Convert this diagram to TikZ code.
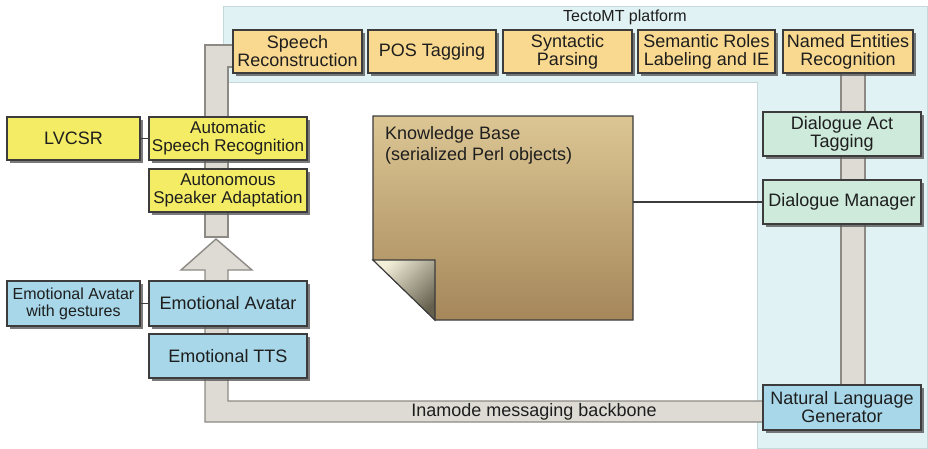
\documentclass[tikz,border=0pt]{standalone}
\usepackage{fontspec}
\setmainfont{Liberation Sans}
\usetikzlibrary{shadows}
\definecolor{tectoY}{HTML}{F9D98F}
\definecolor{asrY}{HTML}{F3EC64}
\definecolor{blueB}{HTML}{A7D7E8}
\definecolor{greenB}{HTML}{CDEADB}
\definecolor{lightbg}{HTML}{E0F2F3}
\definecolor{lightbgline}{HTML}{C3D9DB}
\definecolor{pipefill}{HTML}{DEDBD5}
\definecolor{pipeline}{HTML}{8D8A85}
\definecolor{boxline}{HTML}{3C3C3C}
\definecolor{txt}{HTML}{1E1E1E}
\definecolor{kbtop}{HTML}{DCC694}
\definecolor{kbbot}{HTML}{A5875A}
\definecolor{foldlight}{HTML}{F2EED8}
\definecolor{folddark}{HTML}{66614F}
\begin{document}
\begin{tikzpicture}[x=1pt,y=-1pt,
  box/.style={draw=boxline, line width=1.1pt, inner sep=0pt, align=center, text=txt,
    font=\fontsize{18}{18}\selectfont,
    drop shadow={shadow xshift=2.5pt, shadow yshift=-2.5pt, fill=black!65, opacity=0.8}},
  tbox/.style={box, fill=tectoY},
  ybox/.style={box, fill=asrY},
  bbox/.style={box, fill=blueB},
  gbox/.style={box, fill=greenB},
  pipe/.style={fill=pipefill, draw=pipeline, line width=1.4pt, line join=miter},
  conn/.style={draw=boxline, line width=1.1pt}
]
\useasboundingbox (0,0) rectangle (928,448);

% TectoMT platform background
\path[fill=lightbg, draw=lightbgline, line width=0.8pt]
  (223,6) -- (927,6) -- (927,448) -- (757,448) -- (757,82) -- (223,82) -- cycle;
\node[text=txt, font=\fontsize{16}{16}\selectfont] (title) at (625,17) {TectoMT platform};

% pipes
\path[pipe] (205,237) -- (205,45) -- (236,45) -- (236,67) -- (228,67) -- (228,237) -- cycle;
\path[pipe] (228,401) -- (228,270) -- (252,270) -- (216,239) -- (181,270) -- (205,270)
  -- (205,422) -- (765,422) -- (765,401) -- cycle;
\path[pipe] (841,70) rectangle (865,388);
\node[text=txt, font=\fontsize{18}{18}\selectfont] (backbone) at (534,412) {Inamode messaging backbone};

% TectoMT boxes
\node[tbox, minimum width=129pt, minimum height=43pt] (sr) at (297.5,51.5) {Speech\\Reconstruction};
\node[tbox, minimum width=128pt, minimum height=43pt] (pos) at (432,51.5) {POS Tagging};
\node[tbox, minimum width=129pt, minimum height=43pt] (syn) at (567.5,51.5) {Syntactic\\Parsing};
\node[tbox, minimum width=137pt, minimum height=43pt] (sem) at (706.5,51.5) {Semantic Roles\\Labeling and IE};
\node[tbox, minimum width=130pt, minimum height=43pt] (ner) at (848,51.5) {Named Entities\\Recognition};

% left column
\node[ybox, minimum width=133pt, minimum height=43pt] (lvcsr) at (73.5,138.5) {LVCSR};
\node[ybox, minimum width=158pt, minimum height=43pt, font=\fontsize{17}{18}\selectfont] (asr) at (228,138.5) {Automatic\\Speech Recognition};
\node[ybox, minimum width=158pt, minimum height=43pt, font=\fontsize{17}{18}\selectfont] (asa) at (228,190.5) {Autonomous\\Speaker Adaptation};
\draw[conn] (lvcsr.east) -- (asr.west);

\node[bbox, minimum width=133pt, minimum height=45pt, font=\fontsize{16}{17}\selectfont] (eag) at (73.5,303.5) {Emotional Avatar\\with gestures};
\node[bbox, minimum width=158pt, minimum height=45pt] (ea) at (228,303.5) {Emotional Avatar};
\node[bbox, minimum width=158pt, minimum height=44pt] (tts) at (228,356) {Emotional TTS};
\draw[conn] (eag.east) -- (ea.west);

% right column
\node[gbox, minimum width=158pt, minimum height=44pt] (da) at (842,134) {Dialogue Act\\Tagging};
\node[gbox, minimum width=158pt, minimum height=44pt] (dm) at (842,202) {Dialogue Manager};
\node[bbox, minimum width=158pt, minimum height=45pt] (nlg) at (842,407.5) {Natural Language\\Generator};

% Knowledge base note
\path[top color=kbtop, bottom color=kbbot, draw=boxline, line width=1.1pt]
  (373,116) -- (633,116) -- (633,320) -- (435,320) -- (373,260) -- cycle;
\path[top color=foldlight, bottom color=folddark, shading angle=45, draw=boxline, line width=1.1pt, line join=miter]
  (373,260) -- (435,260) -- (435,320) -- cycle;
\node[anchor=north west, align=left, inner sep=0pt, text=txt, font=\fontsize{18}{21.5}\selectfont] (kb) at (385,126) {Knowledge Base\\(serialized Perl objects)};
\coordinate (kbr) at (633,202);
\draw[conn] (kbr) -- (dm.west);
\end{tikzpicture}
\end{document}
